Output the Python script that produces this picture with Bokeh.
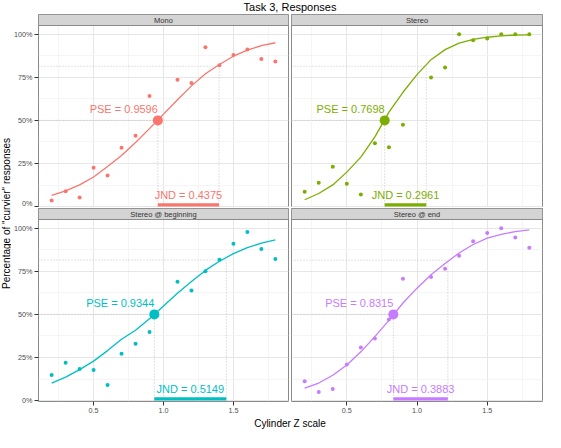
import math
from bokeh.plotting import figure
from bokeh.layouts import column, row
from bokeh.models import Range1d, FixedTicker, NumeralTickFormatter, Grid
from bokeh.core.properties import value
from bokeh.embed import file_html
from bokeh.resources import INLINE

# ---------------- data ----------------
panel_names = ["Mono", "Stereo", "Stereo @ beginning", "Stereo @ end"]
panel_colors = ["#F8766D", "#7CAE00", "#00BFC4", "#C77CFF"]

levels = [0.2, 0.3, 0.4, 0.5, 0.6, 0.7, 0.8, 0.9, 1.1, 1.2, 1.3, 1.4, 1.5, 1.6, 1.7, 1.8]
resp_mono = [0.035, 0.089, 0.053, 0.226, 0.181, 0.342, 0.411, 0.641, 0.735, 0.717, 0.924, 0.820, 0.879, 0.911, 0.856, 0.841]
resp_stereo = [0.087, 0.139, 0.231, 0.133, 0.070, 0.368, 0.344, 0.474, 0.748, 0.807, 1.000, 0.965, 0.975, 1.000, 1.000, 1.000]
resp_begin = [0.149, 0.220, 0.183, 0.177, 0.091, 0.272, 0.330, 0.398, 0.689, 0.638, 0.750, 0.817, 0.910, 0.978, 0.879, 0.821]
resp_end = [0.112, 0.050, 0.067, 0.210, 0.308, 0.360, 0.470, 0.707, 0.717, 0.765, 0.840, 0.924, 0.972, 1.000, 0.946, 0.886]

curve_x = [0.2, 0.3, 0.4, 0.5, 0.6, 0.7, 0.8, 0.9, 1.0, 1.1, 1.2, 1.3, 1.4, 1.5, 1.6, 1.7, 1.8]
fit_mono = [0.065, 0.091, 0.126, 0.172, 0.233, 0.296, 0.372, 0.452, 0.536, 0.620, 0.700, 0.770, 0.824, 0.872, 0.907, 0.933, 0.950]
fit_stereo = [0.040, 0.076, 0.126, 0.200, 0.287, 0.404, 0.548, 0.663, 0.765, 0.852, 0.910, 0.948, 0.970, 0.982, 0.990, 0.994, 0.996]
fit_begin = [0.102, 0.136, 0.180, 0.229, 0.290, 0.356, 0.408, 0.475, 0.548, 0.622, 0.690, 0.755, 0.808, 0.852, 0.887, 0.913, 0.932]
fit_end = [0.072, 0.102, 0.147, 0.207, 0.283, 0.371, 0.465, 0.566, 0.652, 0.730, 0.795, 0.856, 0.905, 0.942, 0.964, 0.980, 0.990]

pse_values = [0.9596, 0.7698, 0.9344, 0.8315]
jnd_values = [0.4375, 0.2961, 0.5149, 0.3883]
jnd_levels = [0.814, 0.814, 0.815, 0.814]

responses = [resp_mono, resp_stereo, resp_begin, resp_end]
fits = [fit_mono, fit_stereo, fit_begin, fit_end]

x_ticks = [0.5, 1.0, 1.5]
x_minor = [0.25, 0.75, 1.25, 1.75]
y_ticks = [0.0, 0.25, 0.5, 0.75, 1.0]
y_minor = [0.125, 0.375, 0.625, 0.875]

title_text = "Task 3, Responses"
x_label = "Cylinder Z scale"
y_label = 'Percentage of "curvier" responses'

# ---------------- layout constants ----------------
FONT = "Liberation Sans"
YLAB_W = 11
LEFT_B = 26
GAP_L = 1
GAP_R = 2
RIGHT_B = 1
FRAME_W = 251
PANEL_H = 182
STRIP_H = 11
TITLE_H = 13
XLAB_H = 13
BOTTOM_B = 15
X0, X1 = 0.106, 1.894
Y0, Y1 = -0.005, 1.05
YTOP = Y1 + STRIP_H * (Y1 - Y0) / PANEL_H

W_LEFT = LEFT_B + FRAME_W + GAP_L
W_RIGHT = GAP_R + FRAME_W + RIGHT_B
TOTAL_W = YLAB_W + W_LEFT + W_RIGHT
GAP_CENTER = YLAB_W + LEFT_B + FRAME_W + (GAP_L + GAP_R) / 2.0

H_TOP = 1 + STRIP_H + PANEL_H
H_BOT = 1 + STRIP_H + PANEL_H + BOTTOM_B
GRID_H = H_TOP + H_BOT


def make_panel(i, left_axis, bottom_axis, top_row):
    name = panel_names[i]
    col = panel_colors[i]
    pse = pse_values[i]
    jnd = jnd_values[i]
    lvl = jnd_levels[i]
    w = W_LEFT if left_axis else W_RIGHT
    h = H_TOP if top_row else H_BOT
    p = figure(
        width=w, height=h,
        x_range=Range1d(X0, X1), y_range=Range1d(Y0, YTOP),
        output_backend="svg", toolbar_location=None,
        x_axis_location="below" if bottom_axis else None,
        y_axis_location="left" if left_axis else None,
        min_border_left=LEFT_B if left_axis else GAP_R,
        min_border_right=GAP_L if left_axis else RIGHT_B,
        min_border_top=1,
        min_border_bottom=BOTTOM_B if bottom_axis else 0,
    )
    p.center = []
    p.add_layout(Grid(dimension=0, ticker=FixedTicker(ticks=x_ticks, minor_ticks=x_minor),
                      grid_line_color="#e6e6e6", grid_line_width=1,
                      minor_grid_line_color="#f3f3f3", minor_grid_line_width=0.8), "center")
    p.add_layout(Grid(dimension=1, ticker=FixedTicker(ticks=y_ticks, minor_ticks=y_minor),
                      grid_line_color="#e6e6e6", grid_line_width=1,
                      minor_grid_line_color="#f3f3f3", minor_grid_line_width=0.8), "center")
    p.outline_line_color = "#8a8a8a"
    p.outline_line_width = 1
    p.background_fill_color = "white"
    p.border_fill_color = "white"

    if left_axis:
        ax = p.yaxis[0]
        ax.ticker = FixedTicker(ticks=y_ticks)
        ax.formatter = NumeralTickFormatter(format="0%")
    if bottom_axis:
        ax = p.xaxis[0]
        ax.ticker = FixedTicker(ticks=x_ticks)
        ax.formatter = NumeralTickFormatter(format="0.0")
    for ax in list(p.xaxis) + list(p.yaxis):
        ax.axis_line_color = None
        ax.major_tick_line_color = "#333333"
        ax.major_tick_out = 4
        ax.major_tick_in = 0
        ax.minor_tick_line_color = None
        ax.major_label_text_font = FONT
        ax.major_label_text_font_size = "7.2px"
        ax.major_label_text_color = "#4d4d4d"
        ax.major_label_standoff = 2

    # reference dotted lines
    p.segment(x0=[X0, pse, X0, pse + jnd], y0=[0.5, Y0, lvl, Y0],
              x1=[pse, pse, pse + jnd, pse + jnd], y1=[0.5, 0.5, lvl, lvl],
              line_color="#bdbdbd", line_width=0.9, line_dash="1 2")
    # fitted curve
    p.line(curve_x, fits[i], line_color=col, line_width=1.3)
    # observed points
    p.scatter(levels, responses[i], size=4, fill_color=col, line_color=None)
    # PSE marker
    p.scatter([pse], [0.5], size=10, fill_color=col, line_color=None)
    # JND bar
    p.segment(x0=[pse], x1=[pse + jnd], y0=[0.01], y1=[0.01],
              line_color=col, line_width=3.2, line_cap="butt")
    p.text(x=[pse], y=[0.5], text=["PSE = %.4f" % pse], text_align="right",
           text_baseline="alphabetic", y_offset=-11.5, text_font=value(FONT),
           text_font_size="11px", text_color=col)
    p.text(x=[pse + jnd / 2.0], y=[0.0], text=["JND = %.4f" % jnd], text_align="center",
           text_baseline="alphabetic", y_offset=-11.5, text_font=value(FONT),
           text_font_size="11px", text_color=col)

    # strip
    p.quad(left=[X0], right=[X1], bottom=[Y1], top=[YTOP], fill_color="#d4d4d4",
           line_color="#8a8a8a", line_width=1)
    p.text(x=[(X0 + X1) / 2.0], y=[(Y1 + YTOP) / 2.0], text=[name], text_align="center",
           text_baseline="middle", text_font=value(FONT), text_font_size="7.5px",
           text_color="#333333")
    return p


def blank_fig(w, h):
    f = figure(width=w, height=h, x_range=Range1d(0, 1), y_range=Range1d(0, 1),
               output_backend="svg", toolbar_location=None,
               x_axis_location=None, y_axis_location=None,
               min_border_left=0, min_border_right=0, min_border_top=0, min_border_bottom=0)
    f.grid.visible = False
    f.outline_line_color = None
    f.background_fill_color = "white"
    f.border_fill_color = "white"
    return f


tl = make_panel(0, True, False, True)
tr = make_panel(1, False, False, True)
bl = make_panel(2, True, True, False)
br = make_panel(3, False, True, False)

title_fig = blank_fig(TOTAL_W, TITLE_H)
title_fig.text(x=[GAP_CENTER / TOTAL_W], y=[0.5], text=[title_text], text_align="center",
               text_baseline="middle", text_font=value(FONT), text_font_size="11px",
               text_color="#000000")

ylab_fig = blank_fig(YLAB_W, GRID_H)
panel_mid = (1 + STRIP_H + (H_TOP + 1 + STRIP_H + PANEL_H)) / 2.0
ylab_fig.text(x=[0.5], y=[1 - panel_mid / GRID_H], text=[y_label], angle=math.pi / 2,
              text_align="center", text_baseline="middle", text_font=value(FONT),
              text_font_size="10px", text_color="#000000")

xlab_fig = blank_fig(TOTAL_W, XLAB_H)
xlab_fig.text(x=[GAP_CENTER / TOTAL_W], y=[0.5], text=[x_label], text_align="center",
              text_baseline="middle", text_font=value(FONT), text_font_size="10px",
              text_color="#000000")

layout = column(
    title_fig,
    row(ylab_fig, column(row(tl, tr), row(bl, br))),
    xlab_fig,
)

open("out.html", "w").write(file_html(layout, INLINE))
